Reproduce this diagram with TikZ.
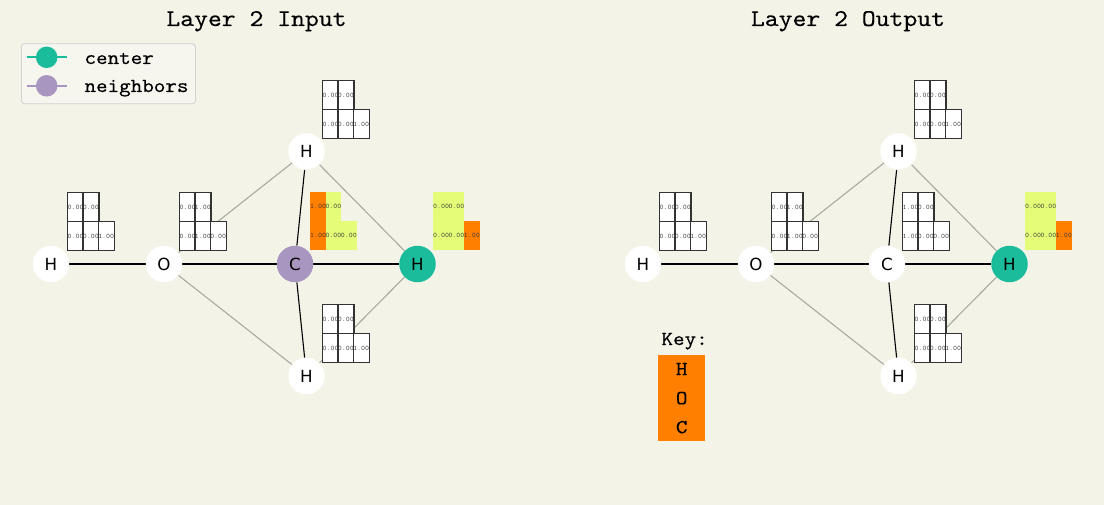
\documentclass[tikz,border=0pt]{standalone}
\usepackage{fontspec}
\setmainfont{DejaVu Sans}
\newfontfamily\monof{lmmono10}[Extension=.otf, UprightFont=*-regular, FakeStretch=1.1, FakeBold=0.2]
\newfontfamily\cellf{lmmono10}[Extension=.otf, UprightFont=*-regular, FakeStretch=1.1]
\definecolor{bgc}{HTML}{F4F3E8}
\definecolor{tealc}{RGB}{26,188,156}
\definecolor{purp}{RGB}{168,150,192}
\definecolor{orng}{HTML}{FF7F00}
\definecolor{ylw}{HTML}{E4FC78}
\definecolor{edgegray}{HTML}{AAAAA5}
\definecolor{celledge}{HTML}{333333}
\definecolor{legedge}{HTML}{D2D2D0}
\definecolor{legfill}{HTML}{F6F5EE}
\pgfdeclarelayer{back}
\pgfdeclarelayer{edges}
\pgfsetlayers{back,edges,main}
\tikzset{
  atom/.style={circle, fill=white, minimum size=36.5pt, inner sep=0pt, font=\fontsize{16.7}{18}\selectfont},
  ctr/.style={atom, fill=tealc},
  nbr/.style={atom, fill=purp},
  bond/.style={line width=1.1pt, black},
  nbond/.style={line width=1.1pt, edgegray},
  cellbase/.style={anchor=north west, minimum width=15.3pt, minimum height=29pt, inner sep=0pt, text=black!80, font=\cellf\fontsize{6.9}{7}\selectfont},
  wc/.style={cellbase, fill=white, draw=celledge, line width=1.3pt},
  oc/.style={cellbase, fill=orng},
  yc/.style={cellbase, fill=ylw},
  ttl/.style={anchor=base, font=\monof\fontsize{24}{26}\selectfont},
  legtxt/.style={anchor=base west, font=\monof\fontsize{20}{22}\selectfont},
}
% #1 name, #2 top-left, #3 top row style/text, #4 bottom row style/text
\newcommand\mtx[4]{%
  \begin{scope}[shift={#2}]
    \foreach \s/\t [count=\i] in {#3} \node[\s] (#1-1-\i) at ({(\i-1)*15.3},0) {\t};
    \foreach \s/\t [count=\i] in {#4} \node[\s] (#1-2-\i) at ({(\i-1)*15.3},29) {\t};
  \end{scope}}
\begin{document}
\begin{tikzpicture}[x=1pt, y=-1pt]
\begin{pgfonlayer}{back}
  \fill[bgc] (0,0) rectangle (1104,505);
\end{pgfonlayer}
\useasboundingbox (0,0) rectangle (1104,505);

% titles
\node[ttl] (t1) at (256.5,26) {Layer 2 Input};
\node[ttl] (t2) at (848,26) {Layer 2 Output};

% legend
\node[draw=legedge, fill=legfill, line width=0.9pt, rounded corners=3pt, anchor=north west, minimum width=174pt, minimum height=60pt, inner sep=0pt] (legend) at (21,43.3) {};
\coordinate (la1) at (26.7,57.3); \coordinate (lb1) at (66.7,57.3);
\coordinate (la2) at (26.7,85.8); \coordinate (lb2) at (66.7,85.8);
\draw[tealc, line width=1.8pt] (la1) -- (lb1);
\draw[purp, line width=1.8pt] (la2) -- (lb2);
\node[circle, fill=tealc, minimum size=21.5pt, inner sep=0pt] (lm1) at (46.7,57.3) {};
\node[circle, fill=purp, minimum size=21.5pt, inner sep=0pt] (lm2) at (46.7,85.8) {};
\node[legtxt] (lt1) at (81,64) {center};
\node[legtxt] (lt2) at (81,92) {neighbors};

% ---------- left panel ----------
\node[atom] (aH1) at (51,264) {H};
\node[atom] (aO) at (164,264) {O};
\node[nbr] (aC) at (295,264) {C};
\node[atom] (aHt) at (306.5,151.5) {H};
\node[ctr] (aHr) at (417.5,264) {H};
\node[atom] (aHb) at (306.5,376) {H};
\begin{pgfonlayer}{edges}
  \draw[bond] (aH1) -- (aO);
  \draw[bond] (aO) -- (aC);
  \draw[bond] (aC) -- (aHr);
  \draw[bond] (aC) -- (aHt);
  \draw[bond] (aC) -- (aHb);
  \draw[nbond] (aO) -- (aHt);
  \draw[nbond] (aO) -- (aHb);
  \draw[nbond] (aHt) -- (aHr);
  \draw[nbond] (aHb) -- (aHr);
\end{pgfonlayer}
\mtx{amH1}{(67,192)}{wc/0.00, wc/0.00}{wc/0.00, wc/0.00, wc/1.00}
\mtx{amO}{(179,192)}{wc/0.00, wc/1.00}{wc/0.00, wc/1.00, wc/0.00}
\mtx{amHt}{(322,80)}{wc/0.00, wc/0.00}{wc/0.00, wc/0.00, wc/1.00}
\mtx{amC}{(310,192)}{oc/1.00, yc/0.00}{oc/1.00, yc/0.00, yc/0.00}
\mtx{amHr}{(433,192)}{yc/0.00, yc/0.00}{yc/0.00, yc/0.00, oc/1.00}
\mtx{amHb}{(322,304)}{wc/0.00, wc/0.00}{wc/0.00, wc/0.00, wc/1.00}

% ---------- right panel ----------
\node[atom] (bH1) at (643,264) {H};
\node[atom] (bO) at (756,264) {O};
\node[atom] (bC) at (887,264) {C};
\node[atom] (bHt) at (898.5,151.5) {H};
\node[ctr] (bHr) at (1009.5,264) {H};
\node[atom] (bHb) at (898.5,376) {H};
\begin{pgfonlayer}{edges}
  \draw[bond] (bH1) -- (bO);
  \draw[bond] (bO) -- (bC);
  \draw[bond] (bC) -- (bHr);
  \draw[bond] (bC) -- (bHt);
  \draw[bond] (bC) -- (bHb);
  \draw[nbond] (bO) -- (bHt);
  \draw[nbond] (bO) -- (bHb);
  \draw[nbond] (bHt) -- (bHr);
  \draw[nbond] (bHb) -- (bHr);
\end{pgfonlayer}
\mtx{bmH1}{(659,192)}{wc/0.00, wc/0.00}{wc/0.00, wc/0.00, wc/1.00}
\mtx{bmO}{(771,192)}{wc/0.00, wc/1.00}{wc/0.00, wc/1.00, wc/0.00}
\mtx{bmHt}{(914,80)}{wc/0.00, wc/0.00}{wc/0.00, wc/0.00, wc/1.00}
\mtx{bmC}{(902,192)}{wc/1.00, wc/0.00}{wc/1.00, wc/0.00, wc/0.00}
\mtx{bmHr}{(1025,192)}{yc/0.00, yc/0.00}{yc/0.00, yc/0.00, oc/1.00}
\mtx{bmHb}{(914,304)}{wc/0.00, wc/0.00}{wc/0.00, wc/0.00, wc/1.00}

% key
\node[legtxt] (keyt) at (658,345) {Key:};
\node[fill=orng, anchor=north west, minimum width=47pt, minimum height=86pt, inner sep=0pt, align=center, font=\monof\fontsize{20}{29}\selectfont] (keybox) at (658,355) {H\\O\\C};
\end{tikzpicture}
\end{document}
